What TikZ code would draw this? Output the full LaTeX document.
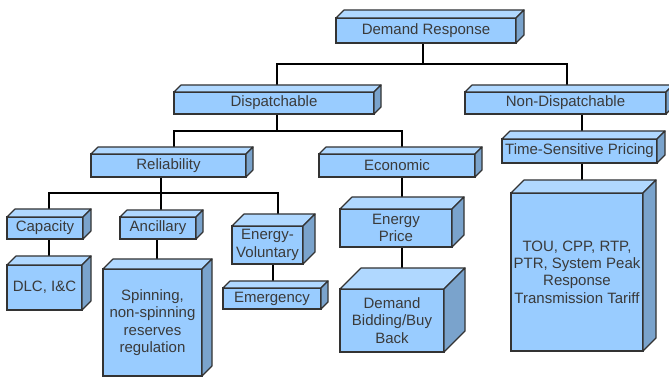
\documentclass[tikz,border=0pt]{standalone}
\usepackage{fontspec}
\setmainfont{Liberation Sans}
\definecolor{frontc}{HTML}{99CCFF}
\definecolor{topc}{HTML}{B0D8FF}
\definecolor{sidec}{HTML}{7AA3CC}
\definecolor{edgec}{HTML}{333333}
\definecolor{textc}{HTML}{3A3A3A}
\pgfdeclarelayer{bg}
\pgfsetlayers{bg,main}
\newcommand{\cubefaces}[2]{%
  \filldraw[facestyle, fill=topc] (#1.north west) -- ++(#2,-#2) -- ([shift={(#2,-#2)}]#1.north east) -- (#1.north east) -- cycle;
  \filldraw[facestyle, fill=sidec] (#1.north east) -- ++(#2,-#2) -- ([shift={(#2,-#2)}]#1.south east) -- (#1.south east) -- cycle;
}
\newcommand{\cube}[8]{% name, x1, y1, w, h, depth, text
  \node[box, minimum width=#4pt, minimum height=#5pt, anchor=north west] (#1) at (#2,#3) {#7};
  \cubefaces{#1}{#6}%
}
\begin{document}
\begin{tikzpicture}[x=1pt,y=-1pt,
  box/.style={draw=edgec, fill=frontc, line width=1.2pt, inner sep=0pt, outer sep=0pt,
    align=center, text=textc, font=\fontsize{15}{17.3}\selectfont},
  facestyle/.style={draw=edgec, line width=1.2pt, line join=round},
  conn/.style={draw=black, line width=2pt}]
\useasboundingbox (0,0) rectangle (669,379);

\cube{dr}{336}{18}{180}{25}{8}{Demand Response}{}
\cube{dp}{174}{92}{200}{22}{7}{Dispatchable}{}
\cube{nd}{465}{92}{201}{22}{7}{Non-Dispatchable}{}
\cube{tsp}{502}{139}{155}{24}{8}{Time-Sensitive Pricing}{}
\cube{tou}{511}{193}{132}{158}{13}{TOU, CPP, RTP,\\PTR, System Peak\\Response\\Transmission Tariff}{}
\cube{rel}{91}{154}{155}{23}{7}{Reliability}{}
\cube{eco}{319}{154}{156}{23}{7}{Economic}{}
\cube{cap}{7}{217}{76}{22}{8}{Capacity}{}
\cube{anc}{120}{217}{76}{22}{7}{Ancillary}{}
\cube{ev}{232}{226}{71}{38}{12}{Energy-\\Voluntary}{}
\cube{dlc}{7}{265}{75}{45}{9}{DLC, I\&C}{}
\cube{spin}{103}{269}{99}{107}{10}{Spinning,\\non-spinning\\reserves\\regulation}{}
\cube{emg}{223}{288}{98}{21}{7}{Emergency}{}
\cube{ep}{340}{209}{112}{38}{12}{Energy\\Price}{}
\cube{db}{340}{289}{104}{63}{21}{Demand\\Bidding/Buy\\Back}{}

\begin{pgfonlayer}{bg}
\fill[white] (0,0) rectangle (669,379);
\draw[conn] ([xshift=-3]dr.south) -- +(0,21) -| ([xshift=3]dp.center);
\draw[conn] ([xshift=-3]dr.south) -- +(0,21) -| ([xshift=1.5]nd.center);
\draw[conn] ([xshift=3]dp.south) -- +(0,17) -| ([xshift=5.5]rel.center);
\draw[conn] ([xshift=3]dp.south) -- +(0,17) -| ([xshift=5]eco.center);
\draw[conn] ([xshift=16.5]nd.center) -- ([xshift=2.5]tsp.center);
\draw[conn] ([xshift=2.5]tsp.center) -- ([xshift=5]tou.center);
\draw[conn] ([xshift=-7.5]rel.south) -- +(0,16) -| ([xshift=4]cap.center);
\draw[conn] ([xshift=-7.5]rel.south) -- +(0,16) -| ([xshift=10.5]ev.center);
\draw[conn] ([xshift=-7.5]rel.south) |- (anc.center);
\draw[conn] ([xshift=4]cap.center) -- ([xshift=4.5]dlc.center);
\draw[conn] ([xshift=-1]anc.center) -- ([xshift=4.5]spin.center);
\draw[conn] ([xshift=5.5]ev.center) -- ([xshift=1]emg.center);
\draw[conn] ([xshift=5]eco.center) -- ([xshift=6]ep.center);
\draw[conn] ([xshift=6]ep.center) -- ([xshift=10]db.center);
\end{pgfonlayer}
\end{tikzpicture}
\end{document}
